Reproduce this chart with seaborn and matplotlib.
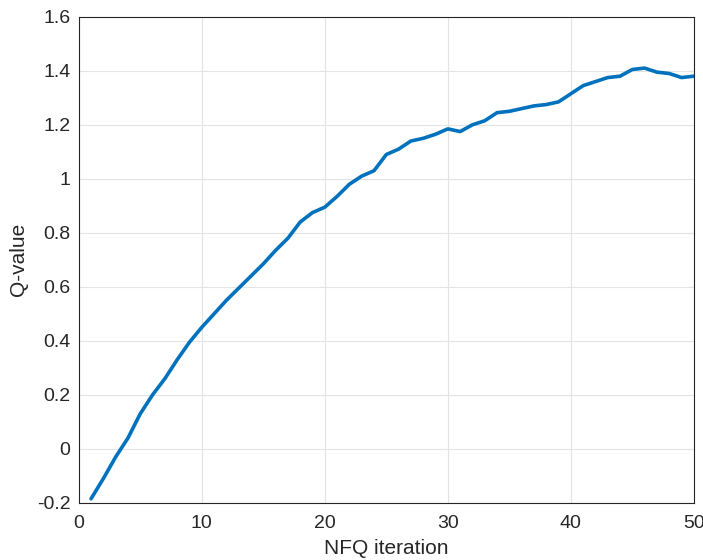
import matplotlib
matplotlib.use("Agg")
import matplotlib.pyplot as plt
import seaborn as sns
import pandas as pd

iterations = list(range(1, 51))
q_values = [-0.185, -0.11, -0.03, 0.04, 0.13, 0.2, 0.26, 0.33, 0.395, 0.45,
            0.5, 0.55, 0.595, 0.64, 0.685, 0.735, 0.78, 0.84, 0.875, 0.895,
            0.935, 0.98, 1.01, 1.03, 1.09, 1.11, 1.14, 1.15, 1.165, 1.185,
            1.175, 1.2, 1.215, 1.245, 1.25, 1.26, 1.27, 1.275, 1.285, 1.315,
            1.345, 1.36, 1.375, 1.38, 1.405, 1.41, 1.395, 1.39, 1.375, 1.38]
x_ticks = [0, 10, 20, 30, 40, 50]
y_ticks = [-0.2, 0, 0.2, 0.4, 0.6, 0.8, 1, 1.2, 1.4, 1.6]
y_labels = ["-0.2", "0", "0.2", "0.4", "0.6", "0.8", "1", "1.2", "1.4", "1.6"]

df = pd.DataFrame({"iteration": iterations, "q": q_values})

sns.set_style("white")
plt.rcParams['font.family'] = ['Liberation Sans', 'DejaVu Sans']

fig = plt.figure(figsize=(7.03, 5.6), dpi=100)
ax = fig.add_axes([0.112, 0.102, 0.875, 0.868])
sns.lineplot(data=df, x="iteration", y="q", color="#0072BD", linewidth=2.6, ax=ax)

ax.set_xlim(0, 50)
ax.set_ylim(-0.2, 1.6)
ax.set_xticks(x_ticks)
ax.set_yticks(y_ticks)
ax.set_yticklabels(y_labels)
ax.grid(True, color="#e3e3e3", linewidth=0.8)
ax.tick_params(direction="in", length=4, labelsize=14, colors="#262626", width=0.8)
ax.tick_params(axis="x", pad=9)
ax.tick_params(axis="y", pad=6)
for side in ax.spines.values():
    side.set_color("#262626")
    side.set_linewidth(0.8)
ax.set_xlabel("NFQ iteration", fontsize=15, color="#262626", labelpad=5)
ax.set_ylabel("Q-value", fontsize=15, color="#262626", labelpad=6)

fig.savefig("out.png", dpi=100)
